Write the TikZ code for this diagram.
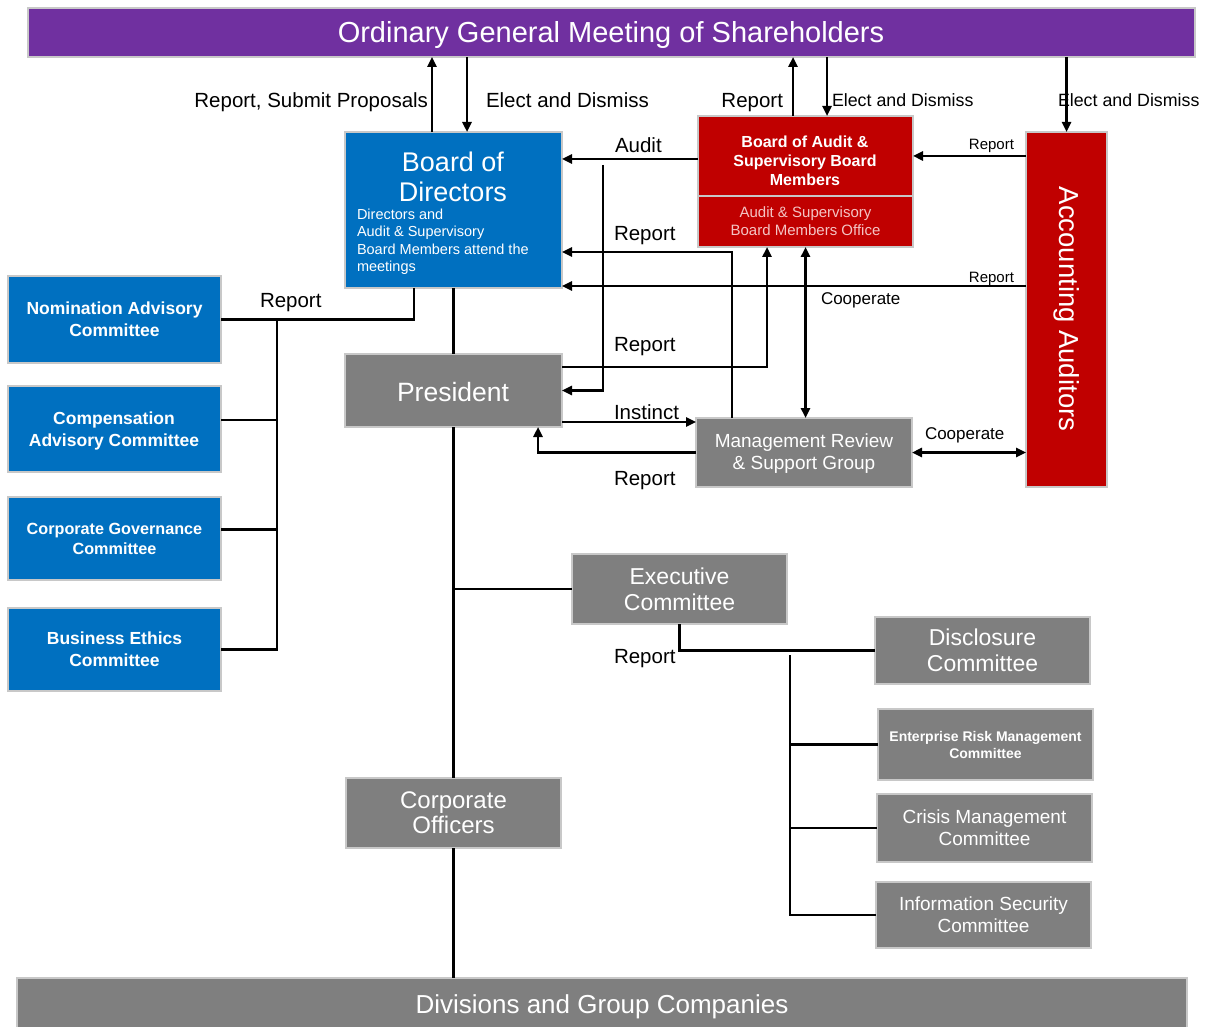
\documentclass[tikz,border=0pt]{standalone}
\usepackage{fontspec}
\setmainfont{Liberation Sans}
\usetikzlibrary{arrows.meta,calc}
\definecolor{cpurple}{HTML}{7030A0}
\definecolor{cblue}{HTML}{0070C0}
\definecolor{cred}{HTML}{C00000}
\definecolor{cgray}{HTML}{7F7F7F}
\definecolor{cborder}{HTML}{C8C8C8}
\definecolor{cpink}{HTML}{F4C4C4}
\newcommand{\fs}[2]{\fontsize{#1}{#2}\selectfont}
\tikzset{
  box/.style={draw=cborder, line width=1.3pt, inner sep=0pt, outer sep=0pt, anchor=north west, text=white, align=center},
  bluebox/.style={box, fill=cblue},
  redbox/.style={box, fill=cred},
  graybox/.style={box, fill=cgray},
  purplebox/.style={box, fill=cpurple},
  ln/.style={line width=2.4pt, draw=black},
  arr/.style={ln, -{Triangle[length=10pt,width=9pt]}},
  darr/.style={ln, {Triangle[length=10pt,width=9pt]}-{Triangle[length=10pt,width=9pt]}},
  lbl/.style={inner sep=0pt, outer sep=0pt, text=black},
  wtxt/.style={inner sep=0pt, outer sep=0pt, text=white, align=center},
}
\begin{document}
\begin{tikzpicture}[x=1pt,y=-1pt]
\useasboundingbox (0,0) rectangle (1211,1027);
\fill[white] (0,0) rectangle (1211,1027);

% ---------- boxes ----------
\node[purplebox, minimum width=1167pt, minimum height=49pt] (gm) at (28,8) {};
\node[wtxt, font=\fs{29}{33}] (gmt) at (611,35) {Ordinary General Meeting of Shareholders};

\node[bluebox, minimum width=217pt, minimum height=156pt] (bod) at (345,132) {};
\node[wtxt, font=\fs{27}{30}] (bodt) at (453,177) {Board of\\Directors};
\node[wtxt, anchor=north west, align=left, font=\fs{14.5}{17.3}] (bods) at (357,209) {Directors and\\Audit \& Supervisory\\Board Members attend the\\meetings};

\node[redbox, minimum width=215pt, minimum height=80pt] (ab) at (698,116) {};
\node[wtxt, font=\fs{16}{19}\bfseries] (abt) at (805,161) {Board of Audit \&\\Supervisory Board\\Members};
\node[redbox, minimum width=215pt, minimum height=51pt, text=cpink, font=\fs{15}{18}] (abo) at (698,196) {Audit \& Supervisory\\Board Members Office};

\node[redbox, minimum width=81pt, minimum height=355pt] (acc) at (1026,132) {};
\node[wtxt, rotate=-90, font=\fs{27.5}{30}] (acct) at (1067,309) {Accounting Auditors};

\node[graybox, minimum width=217pt, minimum height=73pt] (pres) at (345,354) {};
\node[wtxt, font=\fs{26.5}{30}] (prest) at (453,392) {President};
\node[graybox, minimum width=216pt, minimum height=69pt] (mrsg) at (696,418) {};
\node[wtxt, font=\fs{19}{22}] (mrsgt) at (804,454) {Management Review\\\& Support Group};

\node[bluebox, minimum width=213pt, minimum height=87pt, font=\fs{17.5}{22}\bfseries] (nom) at (8,276) {Nomination Advisory\\Committee};
\node[bluebox, minimum width=213pt, minimum height=86pt] (comp) at (8,386) {};
\node[wtxt, font=\fs{17.5}{22}\bfseries] (compt) at (114,431) {Compensation\\Advisory Committee};
\node[bluebox, minimum width=213pt, minimum height=83pt, font=\fs{16.2}{20}\bfseries] (cg) at (8,497) {Corporate Governance\\Committee};
\node[bluebox, minimum width=213pt, minimum height=83pt, font=\fs{17.5}{22}\bfseries] (be) at (8,608) {Business Ethics\\Committee};

\node[graybox, minimum width=215pt, minimum height=70pt, font=\fs{23}{26}] (exec) at (572,554) {Executive\\Committee};
\node[graybox, minimum width=215pt, minimum height=67pt, font=\fs{23}{26}] (disc) at (875,617) {Disclosure\\Committee};
\node[graybox, minimum width=215pt, minimum height=71pt, font=\fs{14}{17}\bfseries] (erm) at (878,709) {Enterprise Risk Management\\Committee};
\node[graybox, minimum width=215pt, minimum height=68pt, font=\fs{19}{22}] (crisis) at (877,794) {Crisis Management\\Committee};
\node[graybox, minimum width=215pt, minimum height=66pt, font=\fs{19}{22}] (info) at (876,882) {Information Security\\Committee};
\node[graybox, minimum width=215pt, minimum height=70pt, font=\fs{24}{25}] (co) at (346,778) {Corporate\\Officers};
\node[graybox, minimum width=1170pt, minimum height=55pt] (div) at (17,978) {};
\node[wtxt, font=\fs{26}{30}] (divt) at (602,1007) {Divisions and Group Companies};

% ---------- labels ----------
\node[lbl, anchor=base east, font=\fs{20.5}{24}] (l1) at (428,108) {Report, Submit Proposals};
\node[lbl, anchor=base west, font=\fs{20.5}{24}] (l2) at (486,108) {Elect and Dismiss};
\node[lbl, anchor=base east, font=\fs{20.5}{24}] (l3) at (783,108) {Report};
\node[lbl, anchor=base west, font=\fs{17.8}{22}] (l4) at (832,107) {Elect and Dismiss};
\node[lbl, anchor=base west, font=\fs{17.8}{22}] (l5) at (1058,107) {Elect and Dismiss};
\node[lbl, anchor=base west, font=\fs{20.5}{24}] (l6) at (615,153) {Audit};
\node[lbl, anchor=base east, font=\fs{15}{18}] (l7) at (1014,150) {Report};
\node[lbl, anchor=base west, font=\fs{20.5}{24}] (l8) at (614,241) {Report};
\node[lbl, anchor=base east, font=\fs{15}{18}] (l9) at (1014,283) {Report};
\node[lbl, anchor=base west, font=\fs{17}{20}] (l10) at (821,305) {Cooperate};
\node[lbl, anchor=base west, font=\fs{20.5}{24}] (l11) at (614,352) {Report};
\node[lbl, anchor=base west, font=\fs{20.5}{24}] (l12) at (614,419) {Instinct};
\node[lbl, anchor=base west, font=\fs{20.5}{24}] (l13) at (614,485) {Report};
\node[lbl, anchor=base west, font=\fs{17}{20}] (l14) at (925,439) {Cooperate};
\node[lbl, anchor=base west, font=\fs{20.5}{24}] (l15) at (260,308) {Report};
\node[lbl, anchor=base west, font=\fs{20.5}{24}] (l16) at (614,663) {Report};

% ---------- coordinates ----------
\coordinate (rbod) at ([yshift=2pt]bod.south east);
\coordinate (rbod2) at ([yshift=-42pt]bod.east);
\coordinate (auditB) at ([yshift=-3pt]ab.west);
\coordinate (br1) at (603,165);
\coordinate (inst) at ([yshift=5pt]pres.south east);
\coordinate (presup) at ([xshift=193pt]pres.south west);
\coordinate (presrep) at ([yshift=-13pt]pres.north east);
\coordinate (aboin) at ([xshift=69pt]abo.south west);
\coordinate (mrsgrep) at ([xshift=36pt]mrsg.north west);
\coordinate (bodup) at ([xshift=87pt]bod.north west);
\coordinate (boddn) at ([xshift=122pt]bod.north west);
\coordinate (abup) at ([xshift=95pt]ab.north west);
\coordinate (abdn) at ([xshift=129pt]ab.north west);
\coordinate (bodcom) at ([xshift=69pt]bod.south west);
\coordinate (compin) at ([yshift=9pt]comp.east);
\coordinate (cgin) at ([yshift=9pt]cg.east);
\coordinate (v1) at (790,655);
\coordinate (v2) at (277,319);

% ---------- connectors ----------
\draw[arr] (bodup) -- (bodup |- gm.south);
\draw[arr] (boddn |- gm.south) -- (boddn);
\draw[arr] (abup) -- (abup |- gm.south);
\draw[arr] (abdn |- gm.south) -- (abdn);
\draw[arr] (acc.north |- gm.south) -- (acc.north);

\draw[arr] (auditB) -- (auditB -| bod.east);
\draw[arr] (ab.east -| acc.west) -- (ab.east);
\draw[arr] (rbod -| acc.west) -- (rbod);
\draw[arr] (br1) |- (pres.east);
\draw[arr] (mrsgrep) |- (rbod2);
\draw[arr] (presrep) -| (aboin);
\draw[arr] (inst) -- (inst -| mrsg.west);
\draw[arr] (mrsg.west) -| (presup);
\draw[darr] (mrsg.east) -- (mrsg.east -| acc.west);
\draw[darr] (abo.south) -- (abo.south |- mrsg.north);

\draw[ln] (bod.south) -- (pres.north);
\draw[ln] (pres.south) -- (co.north);
\draw[ln] (co.south) -- (co.south |- div.north);
\draw[ln] (pres.south |- exec.west) -- (exec.west);
\draw[ln] (exec.south) |- (disc.west);
\draw[ln] (v1) |- (info.west);
\draw[ln] (v1 |- erm.west) -- (erm.west);
\draw[ln] (v1 |- crisis.west) -- (crisis.west);

\draw[ln] (bodcom) |- (nom.east);
\draw[ln] (v2) |- (be.east);
\draw[ln] (compin -| v2) -- (compin);
\draw[ln] (cgin -| v2) -- (cgin);
\end{tikzpicture}
\end{document}
